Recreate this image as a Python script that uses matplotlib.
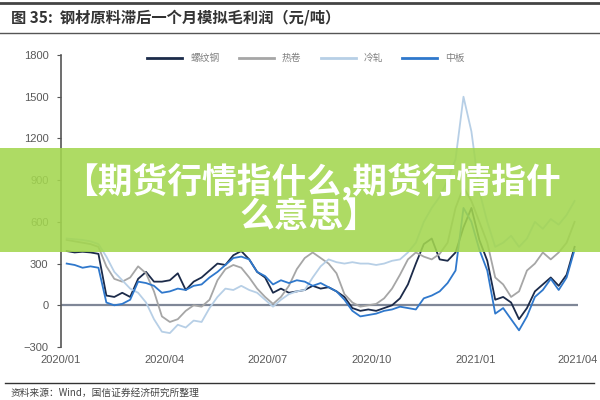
import numpy as np
import pandas as pd
import matplotlib
matplotlib.use('Agg')
import matplotlib.pyplot as plt
import matplotlib.dates as mdates
from matplotlib.patches import Rectangle
from matplotlib.lines import Line2D

plt.rcParams['font.family'] = ['Liberation Sans', 'Noto Sans CJK SC', 'DejaVu Sans']

# weekly series, 2020-01 to 2021-03
dates = pd.date_range('2020-01-06', periods=65, freq='7D')

luowengang = [390, 380, 385, 380, 370, 70, 60, 90, 60, 190,
              240, 170, 170, 180, 230, 110, 170, 200, 250, 300,
              290, 360, 390, 330, 240, 200, 90, 120, 90, 100,
              110, 140, 120, 130, 100, 60, -20, -40, -30, -40,
              -20, 0, 50, 150, 300, 440, 480, 330, 320, 380,
              560, 700, 470, 320, 40, 60, 20, -100, -20, 100,
              150, 200, 140, 220, 420]

rejuan = [470, 460, 450, 440, 420, 280, 190, 170, 200, 280,
          230, 100, -80, -120, -100, -40, 0, -10, 40, 180,
          260, 290, 270, 200, 120, 60, 10, 60, 140, 260,
          340, 380, 340, 300, 230, 80, 20, -10, 0, 10,
          50, 120, 220, 330, 380, 350, 330, 370, 450, 700,
          850, 750, 600, 450, 200, 150, 60, 100, 250, 300,
          380, 330, 380, 450, 600]

lengzha = [480, 475, 470, 460, 440, 350, 240, 180, 120, 90,
           20, -100, -190, -200, -140, -160, -110, -120, -20, 60,
           120, 110, 140, 110, 90, 40, -10, 40, 80, 100,
           110, 200, 280, 330, 310, 300, 310, 300, 300, 290,
           300, 320, 330, 380, 450, 600, 700, 780, 900, 1050,
           1500, 1250, 820, 600, 420, 450, 500, 420, 480, 600,
           550, 620, 580, 650, 750]

zhongban = [300, 290, 270, 280, 270, 20, 0, 10, 40, 170,
            160, 140, 90, 100, 120, 110, 140, 150, 200, 240,
            290, 340, 350, 330, 240, 210, 150, 180, 160, 180,
            170, 140, 160, 130, 100, 40, -40, -80, -70, -60,
            -40, -30, -10, -20, -30, 50, 70, 100, 160, 250,
            700, 600, 400, 250, -60, -20, -100, -180, -80, 60,
            110, 190, 110, 200, 400]

names = ['螺纹钢', '热卷', '冷轧', '中板']
colors = ['#1c2b4a', '#a6a6a6', '#b7cfe6', '#2f78cc']
series = [luowengang, rejuan, lengzha, zhongban]

yticks = [-300, 0, 300, 600, 900, 1200, 1500, 1800]
xticks = pd.to_datetime(['2020-01-01', '2020-04-01', '2020-07-01',
                         '2020-10-01', '2021-01-01', '2021-04-01'])

fig = plt.figure(figsize=(6, 4), dpi=100)
ax = fig.add_axes([0.1017, 0.1325, 0.8616, 0.73])

# draw order: light lines first
for k in [2, 1, 3, 0]:
    ax.plot(dates, series[k], color=colors[k], lw=1.3, zorder=3 + k)

ax.axhline(0, color='#7f8797', lw=1.6, zorder=2)

ax.set_ylim(-300, 1800)
ax.set_xlim(pd.Timestamp('2020-01-01'), pd.Timestamp('2021-04-01'))
ax.set_yticks(yticks)
ax.set_xticks(xticks)
ax.xaxis.set_major_formatter(mdates.DateFormatter('%Y/%m'))
for s in ['top', 'right', 'bottom']:
    ax.spines[s].set_visible(False)
ax.spines['left'].set_color('#555555')
ax.spines['left'].set_linewidth(1.2)
ax.tick_params(axis='y', length=3, color='#555555', labelsize=8,
               labelcolor='#595959', pad=6)
ax.tick_params(axis='x', length=0, labelsize=8, labelcolor='#595959', pad=6)

# legend
handles = [Line2D([0], [0], color=c, lw=2) for c in colors]
fig.legend(handles, names, loc='center', bbox_to_anchor=(0.51, 0.855),
           ncol=4, frameon=False, fontsize=7, handlelength=3.6,
           columnspacing=2.0, labelcolor='#808080')

# header and footer
fig.add_artist(Line2D([0.0, 1.0], [0.993, 0.993], color='#444444', lw=2))
fig.add_artist(Line2D([0.0, 1.0], [0.918, 0.918], color='#555555', lw=1))
fig.text(0.018, 0.957, '图 35:  钢材原料滞后一个月模拟毛利润（元/吨）',
         fontsize=11, fontweight='bold', color='#333333', va='center',
         family=['Noto Sans CJK SC', 'DejaVu Sans'])
fig.add_artist(Line2D([0.008, 0.99], [0.043, 0.043], color='#333333', lw=1))
fig.text(0.018, 0.018, '资料来源：Wind，国信证券经济研究所整理',
         fontsize=7, color='#444444', va='center',
         family=['Noto Sans CJK SC', 'DejaVu Sans'])

# green banner
fig.add_artist(Rectangle((0, 1 - 252 / 400), 1, 104 / 400,
                         transform=fig.transFigure, facecolor='#a3d64f',
                         alpha=0.88, edgecolor='none', zorder=10))
fig.text(0.52, 1 - 181 / 400, '【期货行情指什么,期货行情指什',
         fontsize=25, fontweight='heavy', color='white', ha='center',
         va='center', zorder=11, family=['Noto Sans CJK SC', 'DejaVu Sans'])
fig.text(0.515, 1 - 216 / 400, '么意思】',
         fontsize=25, fontweight='heavy', color='white', ha='center',
         va='center', zorder=11, family=['Noto Sans CJK SC', 'DejaVu Sans'])

fig.savefig('out.png', dpi=100)
